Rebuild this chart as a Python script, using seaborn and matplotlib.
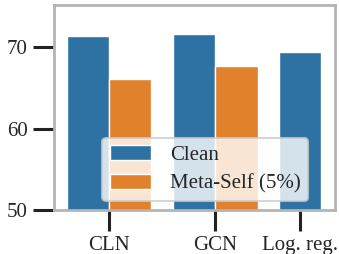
import pandas as pd
import matplotlib
matplotlib.use("Agg")
import matplotlib.pyplot as plt
import seaborn as sns

models = ["CLN", "GCN", "Log. reg."]
clean = [71.4, 71.6, 69.4]
meta_self = [66.1, 67.7, None]

df = pd.DataFrame({
    "model": models * 2,
    "acc": clean + meta_self,
    "setting": ["Clean"] * 3 + ["Meta-Self (5%)"] * 3,
}).dropna()

sns.set_theme(style="ticks")
plt.rcParams["font.family"] = ["Liberation Serif", "DejaVu Serif"]

fig, ax = plt.subplots(figsize=(3.39, 2.54), dpi=100)
sns.barplot(data=df, x="model", y="acc", hue="setting", order=models,
            palette=["#2e71a3", "#e1812c"], saturation=1, ax=ax)

ax.set_ylim(50, 75.2)
ax.set_yticks([50, 60, 70])
ax.set_xlim(-0.52, 2.13)
ax.set_xticks([0, 1, 1.8])
ax.set_xticklabels(models)
ax.set_xlabel("")
ax.set_ylabel("")
ax.tick_params(axis="both", length=15, width=2.2, color="#222222",
               labelsize=15, pad=4)
for s in ax.spines.values():
    s.set_color("#b4b4b4")
    s.set_linewidth(2)

leg = ax.legend(loc="lower right", bbox_to_anchor=(0.905, 0.045),
                borderaxespad=0, fontsize=15, framealpha=0.8,
                handlelength=2.0, borderpad=0.35, labelspacing=0.45,
                handletextpad=0.9)
leg.get_frame().set_edgecolor("#cccccc")
leg.get_frame().set_linewidth(1.5)

fig.subplots_adjust(left=0.159, right=0.988, top=0.98, bottom=0.173)
fig.savefig("out.png", dpi=100)
